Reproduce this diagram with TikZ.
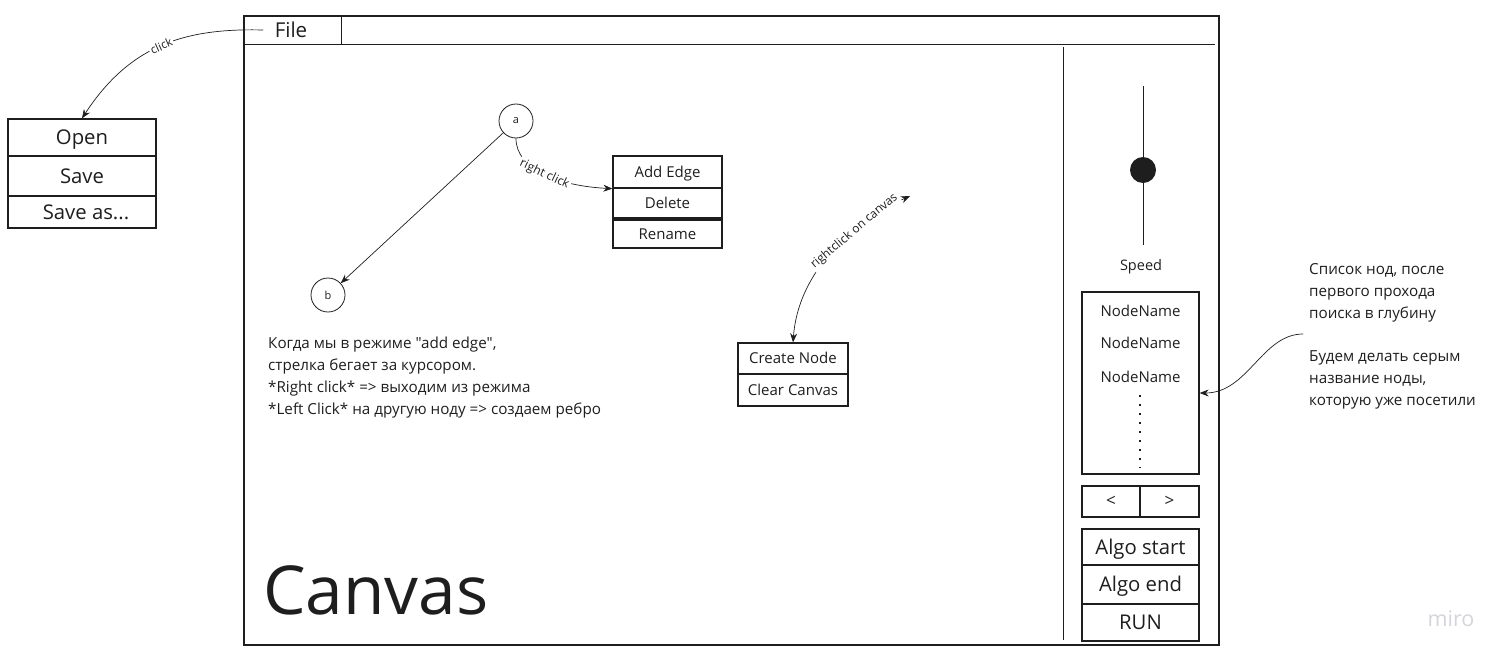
\documentclass[tikz,border=0pt]{standalone}
\usepackage{fontspec}
\setmainfont{Open Sans}[Ligatures=TeXOff]
\usetikzlibrary{arrows.meta}
\definecolor{ink}{RGB}{30,30,30}
\definecolor{mirogray}{RGB}{212,212,220}
\tikzset{
  menuitem/.style={draw=ink, line width=1.3pt, inner sep=0pt, text height=14pt, text depth=4pt, text=ink, font=\fontsize{15}{18}\selectfont},
  bigitem/.style={menuitem, text height=19pt, text depth=5pt, font=\fontsize{20.3}{23}\selectfont},
  vertex/.style={circle, draw=ink, line width=0.8pt, minimum size=34pt, inner sep=0pt, text=ink, font=\fontsize{11}{13}\selectfont},
  link/.style={draw=ink, line width=0.7pt, -{Stealth[length=9pt,width=7pt]}},
  hint/.style={sloped, fill=white, inner sep=1.5pt, text=ink, font=\fontsize{12}{14}\selectfont},
  note/.style={align=left, inner sep=0pt, text=ink, font=\fontsize{15.2}{22}\selectfont}
}

\begin{document}
\begin{tikzpicture}[x=1pt,y=-1pt]
\useasboundingbox (0,0) rectangle (1511,661);

%Shape: Rectangle [main window]
\draw [ink, line width=1.6pt] (244,16) rectangle (1219,645);
%Straight Lines [title bar]
\draw [ink, line width=1pt] (244,45) -- (1215,45);
\draw [ink, line width=1pt] (341,16) -- (341,45);
%Straight Lines [side panel]
\draw [ink, line width=1pt] (1063,47) -- (1063,640);
\node [text=ink, font=\fontsize{20.5}{23}\selectfont] (file) at (291,30) {File};

%File menu
\node [bigitem, minimum width=148pt, minimum height=37pt] (open) at (82,137.5) {Open};
\node [bigitem, minimum width=148pt, minimum height=40pt] (save) at (82,176) {Save};
\node [bigitem, minimum width=148pt, minimum height=32pt] (saveas) at (82,212) {\hspace*{8pt}Save as...};
%Curve Lines [click]
\draw [link] ([xshift=-8pt]file.west) .. controls (185,28) and (130,45) .. (open.north) node [hint, pos=0.5, font=\fontsize{11.5}{13}\selectfont] {click};

%Graph nodes
\node [vertex] (a) at (516,121) {a};
\node [vertex] (b) at (328,295) {b};
\draw [link] (a) -- (b);

%Node menu
\node [menuitem, minimum width=109pt, minimum height=32pt] (addedge) at (667.5,172) {Add Edge};
\node [menuitem, minimum width=109pt, minimum height=30pt] (delete) at (667.5,203) {Delete};
\node [menuitem, minimum width=109pt, minimum height=28pt] (rename) at (667.5,234) {Rename};
%Curve Lines [right click]
\draw [link] (a.south) .. controls (516,170) and (560,186) .. (addedge.south west) node [hint, pos=0.5] {right click};

%Canvas menu
\node [menuitem, minimum width=110pt, minimum height=31pt] (createnode) at (793,358.5) {Create Node};
\node [menuitem, minimum width=110pt, minimum height=32pt] (clearcanvas) at (793,390) {Clear Canvas};
\coordinate (cursor) at (910,196);
%Curve Lines [rightclick on canvas]
\draw [link, {Stealth[length=9pt,width=7pt]}-{Stealth[length=9pt,width=7pt]}] (cursor) .. controls (890,205) and (800,250) .. (createnode.north) node [hint, pos=0.45] {rightclick on canvas};

\node [note, anchor=west] (modehint) at (268,378) {Когда мы в режиме "add edge",\\стрелка бегает за курсором.\\*Right click* => выходим из режима\\*Left Click* на другую ноду => создаем ребро};

\node [anchor=base west, inner sep=0pt, text=ink, font=\fontsize{67.5}{70}\selectfont] (canvas) at (263,614) {Canvas};

%Speed slider
\draw [ink, line width=1pt] (1143,86) -- (1143,245);
\node [circle, fill=ink, minimum size=26pt, inner sep=0pt] (knob) at (1143,170) {};
\node [text=ink, font=\fontsize{14.5}{17}\selectfont] (speed) at (1141,267) {Speed};

%Node list
\node [menuitem, minimum width=117pt, minimum height=182pt] (list) at (1140.5,383) {};
\foreach \y [count=\i] in {311,343,377}
  \node [text=ink, font=\fontsize{15}{18}\selectfont] (item\i) at (1140.5,\y) {NodeName};
\draw [ink, line width=1.4pt, dash pattern=on 1.6pt off 7.4pt] (1140,395) -- (1140,468);

%Buttons
\node [menuitem, font=\fontsize{17}{20}\selectfont, minimum width=58pt, minimum height=31pt] (prev) at (1111,501.5) {<};
\node [menuitem, font=\fontsize{17}{20}\selectfont, minimum width=59pt, minimum height=31pt] (next) at (1169.5,501.5) {>};
\node [bigitem, minimum width=117pt, minimum height=36pt] (algostart) at (1140.5,547) {Algo start};
\node [bigitem, minimum width=117pt, minimum height=39pt] (algoend) at (1140.5,584.5) {Algo end};
\node [bigitem, minimum width=117pt, minimum height=37pt] (run) at (1140.5,622.5) {RUN};

\node [note, anchor=west] (listhint) at (1309,336) {Список нод, после\\первого прохода\\поиска в глубину\\[21pt]Будем делать серым\\название ноды,\\которую уже посетили};
%Curve Lines [list hint]
\draw [link] ([xshift=-6pt,yshift=2pt]listhint.west) .. controls (1262,334) and (1248,393) .. ([yshift=-10pt]list.east);

\node [text=mirogray, font=\fontsize{21.5}{24}\selectfont] (miro) at (1451,619) {miro};

\end{tikzpicture}
\end{document}
